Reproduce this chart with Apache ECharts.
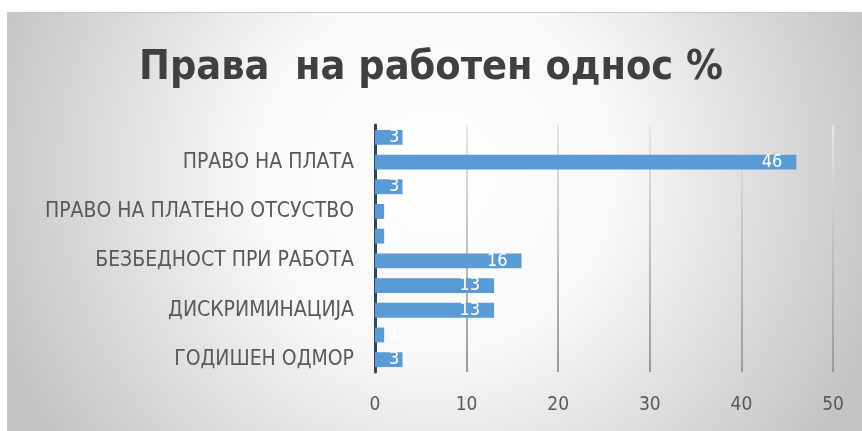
<!DOCTYPE html>
<html><head><meta charset="utf-8">
<script src="https://cdn.jsdelivr.net/npm/echarts@6/dist/echarts.min.js"></script>
<style>html,body{margin:0;padding:0;background:#fff}#c{width:862px;height:431px}</style>
</head><body><div id="c"></div>
<script>
const titleText = 'Права  на работен однос %';
const categories = ['ГОДИШЕН ОДМОР', '', 'ДИСКРИМИНАЦИЈА', '', 'БЕЗБЕДНОСТ ПРИ РАБОТА', '', 'ПРАВО НА ПЛАТЕНО ОТСУСТВО', '', 'ПРАВО НА ПЛАТА', ''];
const values = [3, 1, 13, 13, 16, 1, 1, 3, 46, 3];
const xTicks = [0, 10, 20, 30, 40, 50];

const FONT = 'DejaVu Sans Condensed';
const chart = echarts.init(document.getElementById('c'));
const data = values.map(v => ({
  value: v,
  label: v >= 10 ? { position: 'insideRight', distance: 14 } : { position: 'insideLeft', distance: 14 }
}));
chart.setOption({
  backgroundColor: '#fff',
  graphic: [{
    type: 'rect', left: 7, top: 12, z: -10,
    shape: { width: 855, height: 419 },
    style: {
      fill: { type: 'radial', x: 0.5, y: 0.38, r: 1.1, colorStops: [
        { offset: 0, color: '#ffffff' }, { offset: 0.4, color: '#f8f8f8' }, { offset: 0.6, color: '#e6e6e6' },
        { offset: 0.9, color: '#cdcdcd' }, { offset: 1, color: '#c4c4c4' }] },
      stroke: '#c8c8c8', lineWidth: 1
    }
  }],
  title: {
    text: titleText, left: 'center', top: 43,
    textStyle: { fontFamily: FONT, fontWeight: 'bold', fontSize: 41, color: '#404040' }
  },
  grid: { left: 375, right: 29, top: 125, bottom: 59 },
  xAxis: {
    type: 'value', min: 0, max: 50, interval: 10,
    axisLine: { show: false }, axisTick: { show: false },
    axisLabel: { color: '#595959', fontSize: 19, fontFamily: FONT, margin: 24,
      formatter: v => xTicks.includes(v) ? String(v) : '' },
    splitLine: { lineStyle: { width: 2, color: { type: 'linear', x: 0, y: 125, x2: 0, y2: 372, global: true,
      colorStops: [{ offset: 0, color: '#e6e6e6' }, { offset: 1, color: '#9a9a9a' }] } } }
  },
  yAxis: {
    type: 'category', data: categories,
    axisLine: { lineStyle: { color: '#34445c', width: 3 } }, axisTick: { show: false },
    axisLabel: { interval: 1, color: '#595959', fontSize: 21, fontFamily: FONT, margin: 21 }
  },
  series: [{
    type: 'bar', data: data, barCategoryGap: '40%',
    itemStyle: { color: '#5b9bd5' },
    label: { show: true, color: '#ffffff', fontSize: 18, fontFamily: FONT }
  }]
});
</script></body></html>
